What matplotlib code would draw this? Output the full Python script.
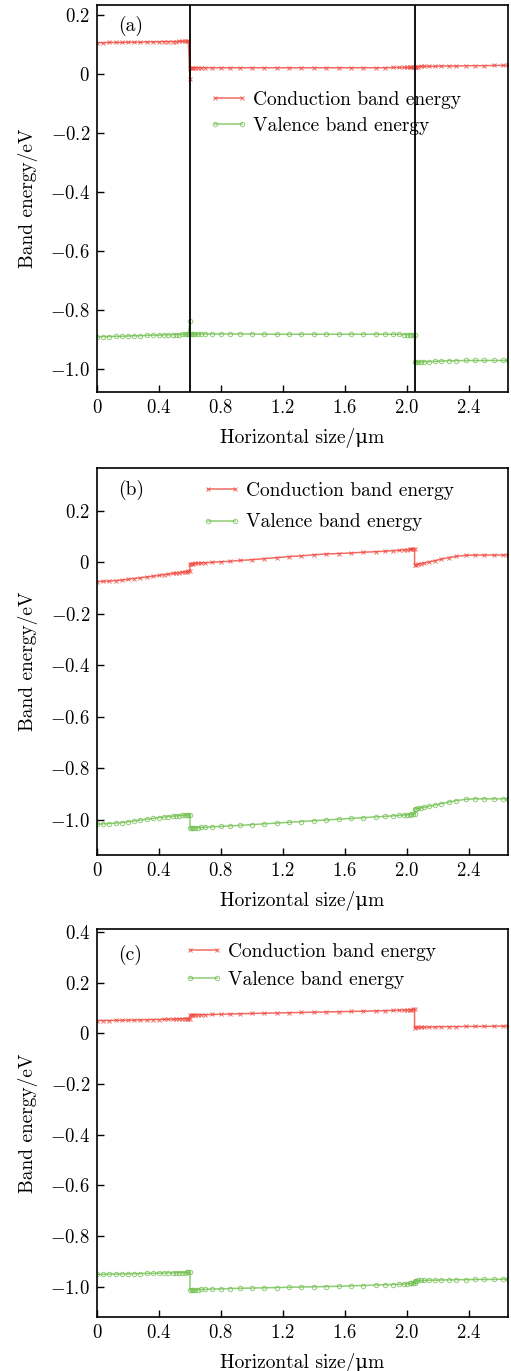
#Band energy profiles (a), (b), (c)

import numpy as np
import matplotlib
matplotlib.use('Agg')
import matplotlib.pyplot as plt
from matplotlib.ticker import FixedLocator, FixedFormatter

plt.rcParams['font.family'] = ['cmr10', 'DejaVu Serif']
plt.rcParams['mathtext.fontset'] = 'cm'
plt.rcParams['axes.unicode_minus'] = False

#1. Dados
# malha horizontal (um), com 0.6 e 2.05 repetidos nas interfaces
x_seg1 = [0, 0.04, 0.08, 0.12, 0.16, 0.2, 0.24, 0.28, 0.32, 0.36, 0.4, 0.43, 0.46,
          0.49, 0.51, 0.53, 0.55, 0.57, 0.58, 0.59, 0.6]
x_seg2 = [0.6, 0.61, 0.62, 0.63, 0.65, 0.67, 0.7, 0.74, 0.8, 0.86, 0.92, 1.0, 1.08,
          1.16, 1.24, 1.32, 1.4, 1.48, 1.56, 1.64, 1.72, 1.8, 1.86, 1.91, 1.95, 1.98,
          2.0, 2.02, 2.03, 2.04, 2.05]
x_seg3 = [2.05, 2.06, 2.07, 2.09, 2.11, 2.14, 2.18, 2.22, 2.27, 2.32, 2.38, 2.44, 2.5,
          2.56, 2.62, 2.65]
interfaces = [0.6, 2.05]

# (a)
cond_a = [0.106, 0.106, 0.107, 0.107, 0.107, 0.108, 0.108, 0.108, 0.109, 0.109, 0.109,
          0.110, 0.110, 0.110, 0.110, 0.111, 0.111, 0.111, 0.111, 0.111, -0.018,
          0.020, 0.020, 0.020, 0.021, 0.021, 0.021, 0.021, 0.021, 0.021, 0.021, 0.021,
          0.021, 0.021, 0.021, 0.021, 0.021, 0.021, 0.021, 0.021, 0.021, 0.021, 0.021,
          0.021, 0.022, 0.022, 0.022, 0.022, 0.022, 0.022, 0.022, 0.022,
          0.025, 0.025, 0.025, 0.026, 0.026, 0.026, 0.026, 0.027, 0.027, 0.027, 0.028,
          0.028, 0.028, 0.029, 0.029, 0.029]
val_a = [-0.892, -0.891, -0.891, -0.890, -0.890, -0.889, -0.888, -0.888, -0.887, -0.886,
         -0.886, -0.885, -0.885, -0.884, -0.884, -0.884, -0.883, -0.883, -0.883, -0.883,
         -0.838,
         -0.882, -0.882, -0.882, -0.882, -0.882, -0.882, -0.882, -0.882, -0.882, -0.882,
         -0.882, -0.882, -0.883, -0.883, -0.883, -0.883, -0.883, -0.883, -0.883, -0.883,
         -0.883, -0.883, -0.883, -0.883, -0.883, -0.884, -0.884, -0.884, -0.884, -0.884,
         -0.884,
         -0.978, -0.978, -0.977, -0.977, -0.976, -0.976, -0.975, -0.974, -0.973, -0.973,
         -0.972, -0.972, -0.972, -0.972, -0.972, -0.972]

# (b)
cond_b = [-0.075, -0.074, -0.073, -0.071, -0.069, -0.066, -0.063, -0.060, -0.057, -0.054,
          -0.051, -0.048, -0.046, -0.043, -0.042, -0.040, -0.039, -0.037, -0.036, -0.035,
          -0.034,
          -0.006, -0.005, -0.005, -0.004, -0.004, -0.003, -0.002, 0.000, 0.002, 0.004,
          0.007, 0.010, 0.014, 0.018, 0.022, 0.025, 0.029, 0.032, 0.034, 0.036, 0.039,
          0.041, 0.043, 0.045, 0.046, 0.048, 0.049, 0.050, 0.051, 0.052, 0.053,
          -0.010, -0.009, -0.007, -0.005, -0.003, 0.001, 0.006, 0.012, 0.018, 0.023,
          0.027, 0.028, 0.028, 0.028, 0.028, 0.028]
val_b = [-1.016, -1.015, -1.014, -1.012, -1.010, -1.007, -1.004, -1.000, -0.997, -0.994,
         -0.991, -0.989, -0.987, -0.985, -0.984, -0.983, -0.982, -0.981, -0.980, -0.980,
         -0.979,
         -1.032, -1.031, -1.031, -1.030, -1.030, -1.029, -1.028, -1.027, -1.025, -1.023,
         -1.021, -1.018, -1.015, -1.012, -1.009, -1.006, -1.003, -1.000, -0.997, -0.994,
         -0.991, -0.988, -0.986, -0.984, -0.982, -0.981, -0.980, -0.979, -0.978, -0.978,
         -0.977,
         -0.958, -0.956, -0.955, -0.953, -0.951, -0.947, -0.942, -0.937, -0.931, -0.925,
         -0.920, -0.918, -0.918, -0.918, -0.918, -0.918]

# (c)
cond_c = [0.050, 0.050, 0.050, 0.051, 0.051, 0.052, 0.052, 0.053, 0.053, 0.054, 0.054,
          0.055, 0.055, 0.056, 0.056, 0.057, 0.057, 0.058, 0.058, 0.058, 0.058,
          0.071, 0.072, 0.072, 0.072, 0.073, 0.073, 0.073, 0.074, 0.075, 0.076, 0.077,
          0.078, 0.079, 0.080, 0.081, 0.082, 0.083, 0.084, 0.085, 0.086, 0.087, 0.088,
          0.089, 0.090, 0.091, 0.091, 0.092, 0.093, 0.093, 0.094, 0.094,
          0.022, 0.023, 0.023, 0.024, 0.024, 0.025, 0.025, 0.026, 0.026, 0.026, 0.027,
          0.027, 0.027, 0.028, 0.028, 0.028]
val_c = [-0.951, -0.951, -0.950, -0.950, -0.949, -0.949, -0.948, -0.948, -0.947, -0.947,
         -0.946, -0.946, -0.945, -0.945, -0.945, -0.944, -0.944, -0.944, -0.943, -0.943,
         -0.943,
         -1.013, -1.012, -1.012, -1.011, -1.011, -1.010, -1.010, -1.009, -1.008, -1.007,
         -1.006, -1.005, -1.004, -1.003, -1.002, -1.001, -1.000, -0.999, -0.998, -0.996,
         -0.995, -0.993, -0.992, -0.991, -0.990, -0.989, -0.988, -0.987, -0.987, -0.986,
         -0.986,
         -0.976, -0.976, -0.975, -0.975, -0.975, -0.974, -0.974, -0.973, -0.973, -0.972,
         -0.972, -0.971, -0.971, -0.971, -0.970, -0.970]

x_ticks = [0, 0.4, 0.8, 1.2, 1.6, 2.0, 2.4]
x_ticklabels = ['0', '0.4', '0.8', '1.2', '1.6', '2.0', '2.4']
y_ticks_ab = [0.2, 0, -0.2, -0.4, -0.6, -0.8, -1.0]
y_ticks_c = [0.4, 0.2, 0, -0.2, -0.4, -0.6, -0.8, -1.0]
panel_names = ['(a)', '(b)', '(c)']

x_all = x_seg1 + x_seg2 + x_seg3

#2. Figura
fig = plt.figure(figsize=(5.11, 13.71), dpi=100)

left, width = 97 / 511, 411 / 511
H = 1371
paineis = [
    # (topo px, base px, ylim, yticks, legenda x, legenda y, espacamento, y do rotulo)
    (5.0, 392.3, (-1.08, 0.234), y_ticks_ab, 0.272, 0.7214, 0.45, 0.946),
    (467.7, 855.0, (-1.136, 0.367), y_ticks_ab, 0.255, 0.8993, 0.68, 0.942),
    (929.3, 1316.7, (-1.118, 0.41), y_ticks_c, 0.212, 0.906, 0.52, 0.935),
]
series = [(cond_a, val_a), (cond_b, val_b), (cond_c, val_c)]

red = '#f0463c'
green = '#72c050'

def fmt(v):
    if v == 0:
        return r'$0$'
    return r'$%.1f$' % v

for i, (top, bot, ylim, yt, lx, ly, lsp, py) in enumerate(paineis):
    ax = fig.add_axes([left, 1 - bot / H, width, (bot - top) / H])
    cond, val = series[i]
    ax.plot(x_all, cond, color=red, lw=1.1, alpha=0.8, marker='x', ms=3.4,
            mew=0.7, label='Conduction band energy')
    ax.plot(x_all, val, color=green, lw=1.1, alpha=0.8, marker='o', ms=3.2,
            mfc='none', mew=0.7, label='Valence band energy')
    if i == 0:
        for xi in interfaces:
            ax.axvline(xi, color='black', lw=1.3)
    ax.set_xlim(0, 2.653)
    ax.set_ylim(*ylim)
    ax.xaxis.set_major_locator(FixedLocator(x_ticks))
    ax.xaxis.set_major_formatter(FixedFormatter([r'$%s$' % t for t in x_ticklabels]))
    ax.yaxis.set_major_locator(FixedLocator(yt))
    ax.yaxis.set_major_formatter(FixedFormatter([fmt(v) for v in yt]))
    ax.tick_params(direction='in', length=5, width=1.0, labelsize=13.5,
                   top=False, right=False, pad=5)
    for s in ax.spines.values():
        s.set_linewidth(1.2)
    ax.set_xlabel('Horizontal size/μm', fontsize=14, labelpad=8)
    ax.set_ylabel('Band energy/eV', fontsize=14, labelpad=9)
    ax.text(0.052, py, panel_names[i], transform=ax.transAxes, fontsize=14,
            ha='left', va='center')
    ax.legend(loc='center left', bbox_to_anchor=(lx, ly), frameon=False,
              fontsize=14, numpoints=2, handlelength=2.0, handletextpad=0.25,
              borderaxespad=0, borderpad=0, labelspacing=lsp)

fig.savefig('out.png', dpi=100)
